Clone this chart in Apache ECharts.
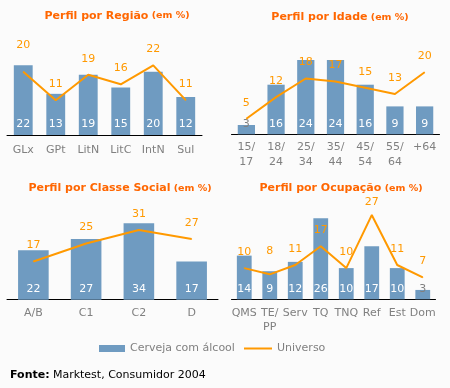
<!DOCTYPE html>
<html>
<head>
<meta charset="utf-8">
<script src="https://cdn.jsdelivr.net/npm/echarts@6/dist/echarts.min.js"></script>
<style>
html,body{margin:0;padding:0;background:#fbfbfb;}
#c{width:450px;height:388px;}
</style>
</head>
<body>
<div id="c"></div>
<script>
// ---- data ----
const regiaoCats = ['GLx', 'GPt', 'LitN', 'LitC', 'IntN', 'Sul'];
const regiaoCerveja = [22, 13, 19, 15, 20, 12];
const regiaoUniverso = [20, 11, 19, 16, 22, 11];

const idadeCats = ['15/\n17', '18/\n24', '25/\n34', '35/\n44', '45/\n54', '55/\n64', '+64'];
const idadeCerveja = [3, 16, 24, 24, 16, 9, 9];
const idadeUniverso = [5, 12, 18, 17, 15, 13, 20];

const classeCats = ['A/B', 'C1', 'C2', 'D'];
const classeCerveja = [22, 27, 34, 17];
const classeUniverso = [17, 25, 31, 27];

const ocupCats = ['QMS', 'TE/\nPP', 'Serv', 'TQ', 'TNQ', 'Ref', 'Est', 'Dom'];
const ocupCerveja = [14, 9, 12, 26, 10, 17, 10, 3];
const ocupUniverso = [10, 8, 11, 17, 10, 27, 11, 7];

const titles = ['Perfil por Região', 'Perfil por Idade', 'Perfil por Classe Social', 'Perfil por Ocupação'];

// ---- styling ----
const FONT = 'DejaVu Sans';
const BAR = '#6f9bc1';
const LINE = '#ff9900';
const TITLE = '#ff6600';
const GRAY = '#808080';

const panels = [
  {cats: regiaoCats, bar: regiaoCerveja, line: regiaoUniverso, grid: {left: 7, top: 40, width: 195, height: 95}, max: 30, margin: 7.5, tx: 117, ty: 16, extra: {0: 11}},
  {cats: idadeCats, bar: idadeCerveja, line: idadeUniverso, grid: {left: 231.5, top: 41.3, width: 208, height: 93}, max: 30, margin: 6, tx: 340, ty: 17.5, extra: {}},
  {cats: classeCats, bar: classeCerveja, line: classeUniverso, grid: {left: 7, top: 209.7, width: 211, height: 90}, max: 40, margin: 6, tx: 120, ty: 188.5, extra: {}},
  {cats: ocupCats, bar: ocupCerveja, line: ocupUniverso, grid: {left: 231.5, top: 205.7, width: 204, height: 93.6}, max: 30, margin: 6.5, tx: 341, ty: 188.5, extra: {1: 7, 5: -3}}
];

const grids = [], xAxes = [], yAxes = [], series = [], graphics = [];
panels.forEach((p, i) => {
  grids.push(p.grid);
  xAxes.push({
    type: 'category', gridIndex: i, data: p.cats, boundaryGap: true,
    axisLine: {lineStyle: {color: '#000', width: 1}},
    axisTick: {length: 4, lineStyle: {color: '#000'}},
    axisLabel: {color: GRAY, fontFamily: FONT, fontSize: 11, lineHeight: 14.5, margin: p.margin, interval: 0}
  });
  yAxes.push({type: 'value', gridIndex: i, min: 0, max: p.max, show: false, splitLine: {show: false}});
  series.push({
    name: 'Cerveja com álcool', type: 'bar', xAxisIndex: i, yAxisIndex: i,
    barWidth: '58%', itemStyle: {color: BAR},
    data: p.bar.map(v => ({value: v, label: {color: v < 5 ? GRAY : '#fff'}})),
    label: {show: true, position: 'insideBottom', distance: 5, fontFamily: FONT, fontSize: 11, color: '#fff'}
  });
  series.push({
    name: 'Universo', type: 'line', xAxisIndex: i, yAxisIndex: i,
    symbol: 'circle', symbolSize: 1, showSymbol: true,
    itemStyle: {color: LINE}, lineStyle: {color: LINE, width: 2},
    data: p.line.map((v, j) => ({value: v, label: {offset: [0, -(p.extra[j] || 0)]}})),
    label: {show: true, position: 'top', distance: 10, fontFamily: FONT, fontSize: 11, color: LINE},
    z: 3
  });
  graphics.push({
    type: 'text', x: p.tx, y: p.ty,
    style: {
      text: '{a|' + titles[i] + '} {b|(em %)}',
      align: 'center', verticalAlign: 'middle',
      rich: {
        a: {fontFamily: FONT, fontWeight: 'bold', fontSize: 11, fill: TITLE, color: TITLE},
        b: {fontFamily: FONT, fontWeight: 'bold', fontSize: 9.5, fill: TITLE, color: TITLE}
      }
    }
  });
});

graphics.push({
  type: 'text', x: 10, y: 375,
  style: {
    text: '{a|Fonte:} {b|Marktest, Consumidor 2004}',
    verticalAlign: 'middle',
    rich: {
      a: {fontFamily: FONT, fontWeight: 'bold', fontSize: 11, fill: '#000', color: '#000'},
      b: {fontFamily: FONT, fontSize: 11, fill: '#000', color: '#000'}
    }
  }
});

const chart = echarts.init(document.getElementById('c'));
chart.setOption({
  backgroundColor: '#fbfbfb',
  animation: false,
  grid: grids,
  xAxis: xAxes,
  yAxis: yAxes,
  series: series,
  legend: [
    {data: [{name: 'Cerveja com álcool', icon: 'rect'}], left: 99, top: 343, padding: 0, itemWidth: 26, itemHeight: 7, itemGap: 5,
      textStyle: {color: GRAY, fontFamily: FONT, fontSize: 11}},
    {data: [{name: 'Universo', icon: 'rect'}], left: 244, top: 343, padding: 0, itemWidth: 28, itemHeight: 2, itemGap: 5,
      textStyle: {color: GRAY, fontFamily: FONT, fontSize: 11}}
  ],
  graphic: graphics
});
</script>
</body>
</html>
